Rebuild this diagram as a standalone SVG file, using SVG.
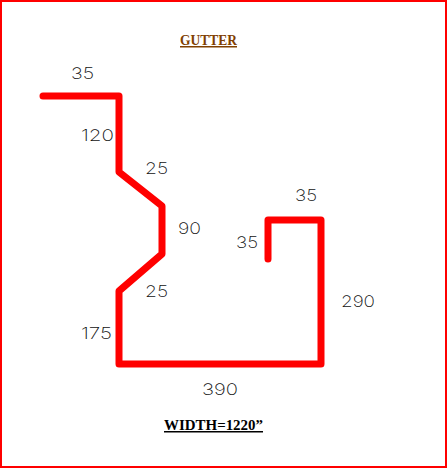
<svg xmlns="http://www.w3.org/2000/svg" width="447" height="468" viewBox="0 0 447 468">
<style>
.dim{font-family:Inter,"Liberation Sans",Arial,sans-serif;font-weight:200;font-size:16px;fill:#111}
.ttl{font-family:"Liberation Serif","Times New Roman",serif;font-weight:bold;font-size:15px;text-decoration:underline}
</style>
<rect id="frame" x="1" y="1" width="445" height="466" fill="#fff" stroke="#f00" stroke-width="2"/>
<g id="profile"><path d="M43 96H119V172L162 206V254L119 291V364H321V220H268V259" fill="none" stroke="#f00" stroke-width="7" stroke-linecap="round" stroke-linejoin="round"/></g>
<g id="labels">
<text class="ttl" x="180" y="45" fill="#804000" textLength="57" lengthAdjust="spacingAndGlyphs">GUTTER</text>
<text class="ttl" x="164" y="430" fill="#000" textLength="99" lengthAdjust="spacingAndGlyphs">WIDTH=1220”</text>
<text class="dim" x="71" y="79" textLength="23" lengthAdjust="spacingAndGlyphs">35</text>
<text class="dim" x="81" y="141" textLength="33" lengthAdjust="spacingAndGlyphs">120</text>
<text class="dim" x="145" y="174" textLength="23" lengthAdjust="spacingAndGlyphs">25</text>
<text class="dim" x="178" y="234" textLength="23" lengthAdjust="spacingAndGlyphs">90</text>
<text class="dim" x="145" y="297" textLength="23" lengthAdjust="spacingAndGlyphs">25</text>
<text class="dim" x="81" y="339" textLength="31" lengthAdjust="spacingAndGlyphs">175</text>
<text class="dim" x="295" y="201" textLength="22" lengthAdjust="spacingAndGlyphs">35</text>
<text class="dim" x="236" y="248" textLength="22" lengthAdjust="spacingAndGlyphs">35</text>
<text class="dim" x="341" y="307" textLength="34" lengthAdjust="spacingAndGlyphs">290</text>
<text class="dim" x="202" y="395" textLength="36" lengthAdjust="spacingAndGlyphs">390</text>
</g>
</svg>
